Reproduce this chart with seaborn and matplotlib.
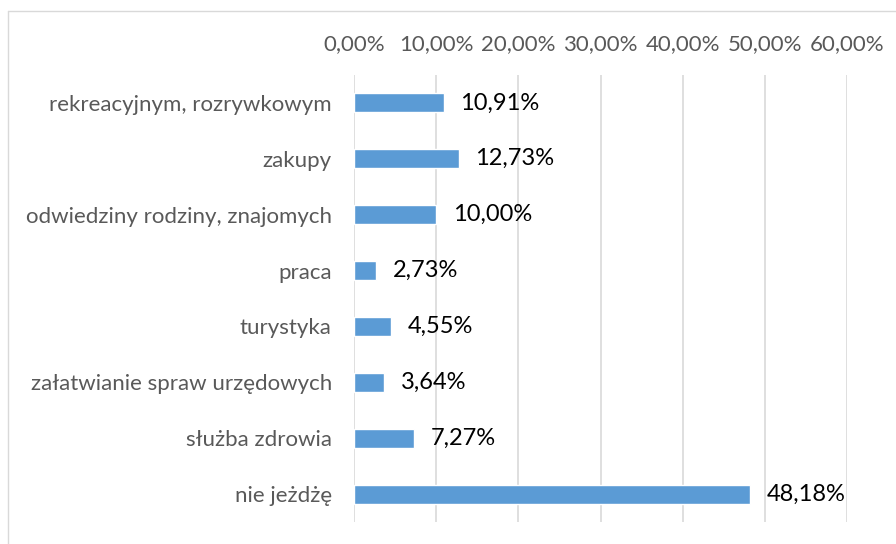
import matplotlib
matplotlib.use("Agg")
import matplotlib.pyplot as plt
import seaborn as sns
import pandas as pd
from matplotlib.lines import Line2D
from matplotlib.ticker import FuncFormatter

categories = [
    "rekreacyjnym, rozrywkowym",
    "zakupy",
    "odwiedziny rodziny, znajomych",
    "praca",
    "turystyka",
    "załatwianie spraw urzędowych",
    "służba zdrowia",
    "nie jeżdżę",
]
values = [10.91, 12.73, 10.00, 2.73, 4.55, 3.64, 7.27, 48.18]
ticks = [0, 10, 20, 30, 40, 50, 60]

df = pd.DataFrame({"cel": categories, "udzial": values})

sns.set_theme(style="white")
plt.rcParams["font.family"] = ["Lato", "DejaVu Sans"]

fig = plt.figure(figsize=(8.96, 5.44), dpi=100)
ax = fig.add_axes([354 / 896, 1 - 522 / 544, (847 - 354) / 896, (522 - 75) / 544])

sns.barplot(data=df, x="udzial", y="cel", color="#5B9BD5", saturation=1,
            width=0.34, ax=ax, orient="h")

ax.set_xlim(0, 60)
ax.set_ylim(7.5, -0.5)
ax.set_xticks(ticks)
ax.xaxis.set_major_formatter(FuncFormatter(lambda v, p: f"{v:.2f}%".replace(".", ",")))
ax.xaxis.tick_top()
ax.tick_params(axis="x", length=0, pad=15, labelsize=16, labelcolor="#595959")
ax.tick_params(axis="y", length=0, pad=16, labelsize=16, labelcolor="#595959")
ax.set_xlabel("")
ax.set_ylabel("")
ax.grid(axis="x", color="#D9D9D9", linewidth=1.2)
ax.set_axisbelow(True)
for s in ax.spines.values():
    s.set_visible(False)

for i, v in enumerate(values):
    ax.annotate(f"{v:.2f}%".replace(".", ","), xy=(v, i), xytext=(12, 0),
                textcoords="offset points", va="center", ha="left",
                fontsize=17, color="#000000")

# chart area frame (top and left edges)
fig.add_artist(Line2D([8 / 896, 1.0], [1 - 11 / 544, 1 - 11 / 544],
                      transform=fig.transFigure, color="#D9D9D9", linewidth=1))
fig.add_artist(Line2D([8 / 896, 8 / 896], [0.0, 1 - 11 / 544],
                      transform=fig.transFigure, color="#D9D9D9", linewidth=1))

fig.savefig("out.png", dpi=100)
